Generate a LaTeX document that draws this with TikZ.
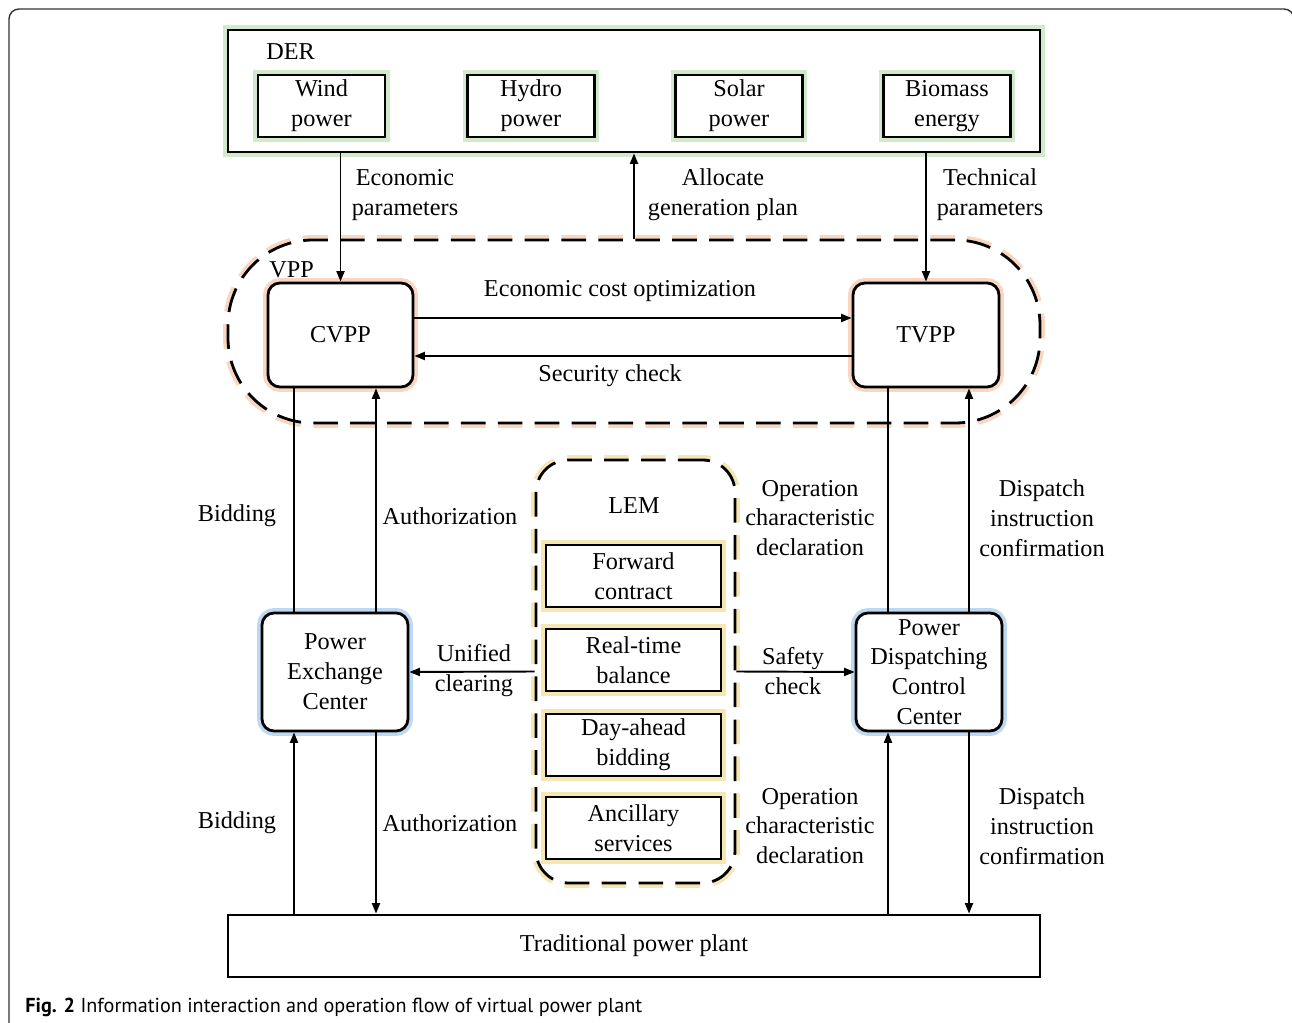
\documentclass[tikz,border=0pt]{standalone}
\usepackage{fontspec}
\setmainfont{Liberation Serif}
\newfontfamily\capfont{PT Sans}
\usetikzlibrary{arrows.meta,calc}

\definecolor{glowG}{HTML}{D2EACB}
\definecolor{glowO}{HTML}{F8D6C0}
\definecolor{glowB}{HTML}{BFD8F2}
\definecolor{glowY}{HTML}{F6E6B4}
\definecolor{framegray}{HTML}{333333}

\begin{document}
\begin{tikzpicture}[x=0.02cm,y=-0.02cm,
  every node/.style={font=\fontsize{13.8}{17}\selectfont, align=center, inner sep=0pt},
  sz/.style 2 args={minimum width=#1*0.02cm, minimum height=#2*0.02cm},
  box/.style={draw, fill=white, line width=1.6pt},
  rbox/.style={draw, fill=white, line width=1.6pt, rounded corners=0.24cm},
  glow/.style={preaction={draw=#1, line width=5.6pt}},
  dashbox/.style={draw, fill=white, line width=1.6pt, dash pattern=on 14pt off 7pt},
  conn/.style={line width=1.1pt},
  arr/.style={line width=1.1pt, -{Triangle[length=6pt,width=4.6pt]}}
]
\useasboundingbox (0,0) rectangle (1292,1023);

% outer frame
\draw[framegray, line width=0.8pt, rounded corners=0.2cm] (9,1040) -- (9,9) -- (1294,9) -- (1294,1040);

% DER group
\node[box, glow=glowG, sz={812}{122}] (der) at (634,91) {};
\node[anchor=west] (derlbl) at (266,52) {DER};
\node[box, glow=glowG, sz={127}{62}] (wind) at (321.5,106) {Wind\\power};
\node[box, glow=glowG, sz={127}{62}] (hydro) at (531,106) {Hydro\\power};
\node[box, glow=glowG, sz={127}{62}] (solar) at (739,106) {Solar\\power};
\node[box, glow=glowG, sz={127}{62}] (bio) at (947,106) {Biomass\\energy};

% VPP group
\node[dashbox, glow=glowO, rounded corners=1.7cm, sz={812}{183}] (vpp) at (634,331.5) {};
\node[anchor=west] (vpplbl) at (269,270) {VPP};
\node[rbox, glow=glowO, sz={145}{104}] (cvpp) at (340.5,335) {CVPP};
\node[rbox, glow=glowO, sz={146}{104}] (tvpp) at (926,335) {TVPP};

% LEM group
\node[dashbox, glow=glowY, rounded corners=0.65cm, sz={199}{423}] (lem) at (635.5,671.5) {};
\node (lemlbl) at (634,506) {LEM};
\node[box, glow=glowY, sz={175}{62}] (fwd) at (633.5,576) {Forward\\contract};
\node[box, glow=glowY, sz={175}{62}] (rtb) at (633.5,660) {Real-time\\balance};
\node[box, glow=glowY, sz={175}{62}] (dab) at (633.5,745) {Day-ahead\\bidding};
\node[box, glow=glowY, sz={175}{62}] (anc) at (633.5,828) {Ancillary\\services};

% centers
\node[rbox, glow=glowB, sz={146}{118}] (pec) at (335,672) {Power\\Exchange\\Center};
\node[rbox, glow=glowB, sz={146}{118}] (pdcc) at (929,672) {Power\\Dispatching\\Control\\Center};

% traditional plant
\node[box, sz={812}{62}] (plant) at (634,946) {Traditional power plant};

% vertical line positions
\coordinate (xa) at (294,0);
\coordinate (xb) at (376,0);
\coordinate (xc) at (888,0);
\coordinate (xd) at (969,0);

% DER <-> VPP
\draw[arr] (cvpp.north |- der.south) -- (cvpp.north);
\draw[arr] (vpp.north) -- (vpp.north |- der.south);
\draw[arr] (tvpp.north |- der.south) -- (tvpp.north);
\node (econp) at (405,195) {Economic\\parameters};
\node (alloc) at (723,195) {Allocate\\generation plan};
\node (techp) at (990,195) {Technical\\parameters};

% CVPP <-> TVPP
\draw[arr] ($(cvpp.east)+(0,-17)$) -- ($(tvpp.west)+(0,-17)$);
\draw[arr] ($(tvpp.west)+(0,21)$) -- ($(cvpp.east)+(0,21)$);
\node (eco) at (620,291) {Economic cost optimization};
\node (sec) at (610,376) {Security check};

% VPP <-> centers
\draw[conn] (cvpp.south -| xa) -- (pec.north -| xa);
\draw[arr] (pec.north -| xb) -- (cvpp.south -| xb);
\draw[conn] (tvpp.south -| xc) -- (pdcc.north -| xc);
\draw[arr] (pdcc.north -| xd) -- (tvpp.south -| xd);
\node (bid1) at (237,516) {Bidding};
\node (auth1) at (450,516) {Authorization};
\node (op1) at (810,518) {Operation\\characteristic\\declaration};
\node (disp1) at (1042,518) {Dispatch\\instruction\\confirmation};

% LEM <-> centers
\draw[arr] (lem.west) -- (pec.east);
\draw[arr] (lem.east) -- (pdcc.west);
\node (unif) at (474,671) {Unified\\clearing};
\node (safe) at (793,671) {Safety\\check};

% centers <-> plant
\draw[arr] (plant.north -| xa) -- (pec.south -| xa);
\draw[arr] (pec.south -| xb) -- (plant.north -| xb);
\draw[arr] (plant.north -| xc) -- (pdcc.south -| xc);
\draw[arr] (pdcc.south -| xd) -- (plant.north -| xd);
\node (bid2) at (237,823) {Bidding};
\node (auth2) at (450,823) {Authorization};
\node (op2) at (810,826) {Operation\\characteristic\\declaration};
\node (disp2) at (1042,826) {Dispatch\\instruction\\confirmation};

% caption
\node[anchor=west, font=\capfont\fontsize{11.5}{13}\selectfont] (cap) at (25,1007)
  {\textbf{Fig. 2} Information interaction and operation flow of virtual power plant};
\end{tikzpicture}
\end{document}
